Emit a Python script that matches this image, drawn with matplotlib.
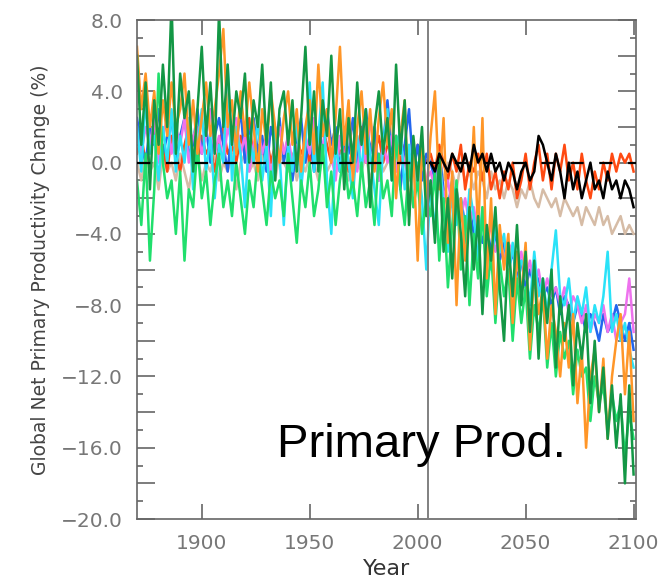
import numpy as np
import matplotlib
matplotlib.use('Agg')
from matplotlib import pyplot as plt
from matplotlib.ticker import MultipleLocator, FuncFormatter

# Two-year sampled model output, historical run then projection
years = np.arange(1870, 2101, 2)
years_future = np.arange(2006, 2101, 2)

dark_green = [
    6.0, 1.0, 4.5, -1.5, 3.5, 1.0, 5.5, 2.0, 9.0, 0.5,
    5.0, 2.5, 4.0, -0.5, 3.0, 6.5, 1.5, 4.5, 0.5, 8.5,
    2.0, 5.5, 1.0, 4.0, 2.5, 5.0, 0.0, 3.5, 2.0, 5.5,
    1.0, 4.5, -1.0, 3.0, 4.0, 1.0, 3.5, -0.5, 2.5, 6.5,
    1.0, 4.0, -0.5, 3.5, 1.5, 6.0, 0.5, 3.0, -1.5, 2.5,
    0.0, 4.5, 1.0, 3.0, -2.5, 2.0, 4.0, 0.5, 2.5, -1.0,
    5.5, 0.5, 3.5, -3.5, 1.5, -1.0, 2.0, -3.0,
    -1.0, -4.5, 0.5, -5.0, -2.0, -6.5, -1.5, -4.0, -7.5, -2.5,
    -6.0, -3.0, -8.5, -3.5, -5.5, -2.5, -7.0, -10.0, -4.5, -7.5,
    -3.5, -8.0, -5.0, -9.5, -5.5, -11.0, -6.5, -9.0, -6.0, -11.5,
    -7.5, -10.0, -8.0, -12.5, -9.0, -11.0, -8.5, -13.5, -10.0, -14.0,
    -11.5, -15.5, -12.5, -16.0, -13.0, -18.0, -12.5, -17.5,
]

orange = [
    6.5, 3.0, 5.0, 2.0, 4.0, 0.5, 3.5, 1.5, 4.5, 2.0,
    3.0, 5.0, 1.0, 3.5, 0.5, 2.5, 4.5, 1.5, 3.0, 5.0,
    7.5, 2.0, 3.5, 0.5, 4.0, 1.5, 4.5, 2.0, -0.5, 3.0,
    1.0, 4.0, 2.0, 0.0, 2.5, 4.0, 1.0, 3.0, -0.5, 2.0,
    3.5, 0.5, 5.5, 1.5, 3.0, 0.0, 2.5, 6.5, 1.0, 3.5,
    -1.0, 2.0, 4.0, 0.5, 3.0, -0.5, 2.5, 4.5, 1.0, 3.0,
    -2.0, 1.5, 3.5, -3.0, 0.5, -5.5, 1.0, -2.0,
    1.5, 4.0, -1.5, 2.5, -4.5, -0.5, -8.0, -2.0, -5.5, -3.0,
    2.0, -4.0, 2.5, -6.5, -2.0, -8.5, -3.5, -6.0, -4.0, -9.0,
    -5.0, -7.5, -4.5, -10.5, -6.0, -8.5, -7.0, -11.0, -8.0, -9.5,
    -12.0, -9.0, -11.5, -8.5, -13.5, -10.5, -16.0, -12.0, -10.5, -14.0,
    -11.0, -15.5, -12.0, -10.0, -8.5, -13.0, -9.5, -14.5,
]

light_green = [
    -1.0, -3.5, 0.5, -5.5, -1.5, 5.0, 0.0, -2.0, -1.0, -4.0,
    -0.5, -5.5, -1.5, -2.5, 1.0, -2.0, -0.5, -3.5, -1.0, 0.5,
    -2.5, -1.0, -3.0, 0.0, -2.0, -4.0, -1.0, -2.5, 0.5, -1.5,
    -3.5, -0.5, -2.0, -1.0, -3.0, 0.5, -2.0, -4.5, -1.0, -2.5,
    0.0, -3.0, -1.5, 1.0, -2.5, -0.5, -3.5, -1.0, 0.5, -2.0,
    -1.0, -3.0, 0.0, -2.5, -1.0, -3.5, 0.5, -2.0, -1.0, -3.0,
    1.5, -1.5, -3.5, 0.0, -2.5, -1.0, -4.0, -2.0,
    -3.0, -0.5, -5.5, -2.0, -7.0, -3.5, -1.0, -6.0, -3.0, -8.0,
    -4.0, -6.5, -2.5, -7.5, -5.0, -9.0, -5.5, -7.5, -6.0, -10.0,
    -6.5, -9.0, -7.0, -11.0, -8.0, -9.5, -7.5, -11.5, -9.0, -12.0,
    -9.5, -11.0, -10.0, -13.0, -10.5, -12.0, -11.5, -14.5, -12.0, -13.5,
    -12.5, -15.0, -13.0, -14.5, -13.5, -16.5, -14.0, -15.5,
]

cyan = [
    2.0, -0.5, 3.5, 0.5, 1.5, -1.0, 2.0, 0.0, 3.0, -0.5,
    1.5, 0.0, 2.5, -1.5, 1.0, 3.0, -0.5, 1.5, -2.0, 1.0,
    0.0, 5.5, -1.0, 2.0, 0.5, -2.5, 1.5, 0.0, 2.5, -1.0,
    1.0, -3.0, 2.0, 0.5, -3.5, 1.0, -0.5, 2.5, -1.5, 1.0,
    4.5, -0.5, 1.5, 4.5, -1.0, -4.0, 1.0, -0.5, 2.0, 0.0,
    -2.0, 1.5, -0.5, 2.5, 0.5, -1.5, -3.5, 1.0, 3.0, -1.0,
    0.5, 2.0, -1.5, 1.0, -2.5, 0.0, -2.0, -6.0,
    -1.0, -4.0, 0.5, -2.5, -5.0, -1.0, -3.5, -2.0, -4.5, -1.5,
    -3.0, -5.5, -2.5, -4.5, -6.0, -3.5, -5.0, -4.0, -6.5, -4.5,
    -7.0, -5.5, -6.0, -8.0, -5.0, -7.5, -6.5, -8.5, -6.0, -3.8,
    -7.5, -8.0, -6.5, -9.0, -7.5, -8.5, -7.0, -9.5, -8.0, -9.0,
    -7.5, -5.0, -9.5, -8.5, -10.0, -9.0, -10.5, -11.5,
]

violet = [
    1.5, 0.5, 2.0, 1.0, 2.5, 0.0, 1.5, 2.5, 0.5, 2.0,
    1.0, 2.5, 0.0, 1.5, 2.0, 0.5, 1.5, 3.0, 0.5, 1.5,
    0.0, 2.0, 1.0, 2.5, 0.5, 1.5, -0.5, 1.0, 2.0, 0.5,
    1.5, -1.0, 1.0, 2.0, 0.5, 1.5, 0.0, 1.0, -0.5, 1.5,
    0.5, 2.5, 0.0, 1.0, 2.0, 0.5, -1.0, 1.5, 0.0, 2.0,
    0.5, -0.5, 1.5, 0.0, 2.5, 0.5, -1.0, 1.0, 0.0, 1.5,
    -0.5, 1.0, 0.0, -1.0, 0.5, -0.5, 0.5, -1.0,
    -0.5, -1.5, 0.0, -2.0, -1.0, -2.5, -1.5, -3.0, -2.0, -3.5,
    -2.5, -4.0, -3.0, -4.5, -3.5, -5.0, -4.0, -5.5, -4.5, -5.0,
    -6.0, -5.0, -6.5, -5.5, -7.0, -6.0, -7.5, -6.5, -7.5, -7.0,
    -8.0, -7.0, -8.5, -7.5, -8.0, -9.0, -8.0, -9.5, -8.5, -9.0,
    -8.0, -9.5, -8.5, -10.0, -9.0, -8.5, -6.5, -9.5,
]

blue = [
    2.5, 1.0, 0.0, 2.0, 1.0, 3.0, 0.5, 1.5, 2.5, 0.0,
    1.5, 2.5, 0.5, 1.0, 3.0, 0.5, 2.0, 0.0, 1.5, 2.5,
    1.0, -0.5, 2.0, 1.0, 3.0, 0.0, 1.5, 2.5, 0.5, 1.5,
    -0.5, 2.0, 1.0, 2.5, 0.0, 1.5, -1.0, 1.0, 2.5, 0.0,
    1.5, -0.5, 2.0, 0.5, 3.0, 1.0, 2.0, -0.5, 1.5, 0.5,
    2.5, 0.0, 1.5, 3.0, 0.5, 2.0, -1.0, 1.0, 3.5, 0.5,
    1.5, -1.5, 1.0, 3.0, -0.5, 1.0, -1.0, 0.5,
    0.0, -1.0, 0.5, -1.5, -2.5, -1.0, -3.0, -2.0, -3.5, -2.5,
    -4.0, -3.0, -4.5, -3.5, -5.0, -4.0, -5.5, -4.5, -6.0, -5.0,
    -6.5, -5.5, -7.0, -6.0, -7.0, -6.5, -7.5, -7.0, -8.0, -7.0,
    -8.5, -7.5, -8.0, -9.0, -8.0, -8.5, -9.5, -8.5, -9.0, -10.0,
    -8.5, -9.5, -9.0, -8.0, -9.0, -10.0, -9.0, -10.5,
]

tan = [
    0.0, -1.0, 0.5, -0.5, 0.0, -1.5, 0.5, -0.5, 0.0, -1.0,
    0.5, -0.5, -1.5, 0.0, 0.5, -1.0, 0.0, -0.5, 0.5, -1.0,
    0.0, -0.5, 0.5, -1.5, 0.0, 0.5, -0.5, 0.0, -1.0, 0.5,
    -0.5, 0.0, -1.0, 0.5, 0.0, -0.5, 0.5, -1.0, 0.0, -0.5,
    0.5, 0.0, -1.0, 0.5, -0.5, 0.0, 1.0, -0.5, 0.0, -1.0,
    0.5, 0.0, -0.5, 0.5, -1.0, 0.0, 0.5, -0.5, 0.0, 1.0,
    -0.5, 0.0, 0.5, -0.5, 0.0, -1.0, 0.5, 0.0,
    0.0, -0.5, 0.5, -1.0, 0.0, -0.5, -1.5, 0.0, -1.0, -0.5,
    -1.5, -0.5, -1.0, -2.0, -0.5, -1.5, -1.0, -2.0, -1.0, -1.5,
    -2.5, -1.5, -2.0, -1.0, -2.0, -2.5, -1.5, -2.0, -2.5, -2.0,
    -3.0, -2.0, -2.5, -3.0, -2.5, -3.5, -2.5, -3.0, -3.5, -2.5,
    -3.5, -3.0, -4.0, -3.5, -3.0, -4.0, -3.5, -4.0,
]

red = [
    0.5, 1.5, 0.0, 1.0, 2.0, 0.5, 1.0, -0.5, 1.5, 0.5,
    -0.5, 1.0, 2.0, 0.5, 0.0, 1.5, 0.5, 1.0, -0.5, 1.0,
    2.0, 0.5, 1.0, 0.0, 1.5, 0.5, 2.5, 0.0, 1.0, 0.5,
    1.5, 0.0, 1.0, 2.0, 0.5, 1.0, 0.0, 1.5, 0.5, 1.0,
    0.0, 1.5, 0.5, 2.0, 1.0, 0.0, 1.5, 0.5, 1.0, -0.5,
    1.0, 0.5, 2.0, 0.0, 1.0, 0.5, 1.5, 0.0, 1.0, 0.5,
    1.5, 0.0, 1.0, 0.5, 0.0, 1.0, 0.5, 0.0,
    0.5, -0.5, 1.0, 0.0, -1.0, 0.5, -0.5, 1.0, -1.5, 0.0,
    -0.5, 0.5, -1.0, 0.5, -1.5, -0.5, -2.0, -0.5, -1.5, 0.0,
    -2.0, -1.0, 0.5, -1.5, 0.0, 1.0, -1.0, 0.5, -1.5, 0.5,
    -0.5, 1.0, -1.0, 0.0, -1.5, 0.5, -1.0, -2.0, -0.5, -1.5,
    0.0, -1.0, 0.5, -0.5, 0.5, 0.0, 0.5, -0.5,
]

black = [
    0.0, -0.5, 0.5, 0.0, -0.5, 0.5, 0.0, -0.5, 0.5, -0.5,
    1.0, 0.0, 0.5, -0.5, 0.5, -0.5, 0.0, -1.0, 0.0, -0.5,
    -1.5, -0.5, 0.0, -1.0, -0.5, 1.5, 1.0, 0.0, -1.0, 0.5,
    -0.5, -2.0, 0.0, -1.5, -0.5, -2.0, -1.0, 0.0, -1.5, -1.0,
    -2.0, -0.5, -1.5, -1.0, -2.0, -1.0, -1.5, -2.5,
]

# drawing order: back to front
series = [
    (tan, '#d6bca6'),
    (red, '#ff4a12'),
    (blue, '#2266ee'),
    (violet, '#ee72ee'),
    (cyan, '#2ae2f8'),
    (light_green, '#20df6c'),
    (orange, '#ff9628'),
    (dark_green, '#139745'),
]

fig = plt.figure(figsize=(6.65, 5.87), dpi=100)
ax = fig.add_axes([0.206, 0.1158, 0.75, 0.85])

for values, color in series:
    ax.plot(years, values, color=color, lw=1.8)
ax.plot(years_future, black, color='black', lw=1.8)

ax.axhline(0, color='black', lw=1.6, dashes=(6, 7), zorder=5)
ax.axvline(2005, color='#808080', lw=1.4, zorder=5)

ax.text(1935, -16.5, 'Primary Prod.', fontsize=34, family='Liberation Sans',
        color='black', ha='left', va='baseline', zorder=6)

ax.set_xlim(1870, 2101)
ax.set_ylim(-20, 8)
ax.set_xticks([1900, 1950, 2000, 2050, 2100])
ax.yaxis.set_major_locator(MultipleLocator(2))
ax.yaxis.set_minor_locator(MultipleLocator(1))


def ylab(v, pos):
    if abs(v % 4) > 1e-6:
        return ''
    return f'{v:.1f}'.replace('-', '\u2212')


ax.yaxis.set_major_formatter(FuncFormatter(ylab))

ax.tick_params(which='both', direction='in', top=True, right=True,
               color='#666666', width=1.2, labelcolor='#777777',
               labelsize=14.5)
ax.tick_params(axis='y', which='major', length=13, pad=10)
ax.tick_params(axis='y', which='minor', length=4.5)
ax.tick_params(axis='x', which='major', length=11, pad=11)
for sp in ax.spines.values():
    sp.set_color('#666666')
    sp.set_linewidth(1.2)

ax.set_ylabel('Global Net Primary Productivity Change (%)', fontsize=13.5,
              color='#444444', labelpad=8)
ax.set_xlabel('Year', fontsize=16, color='#333333', labelpad=4)

fig.savefig('out.png', dpi=100)
